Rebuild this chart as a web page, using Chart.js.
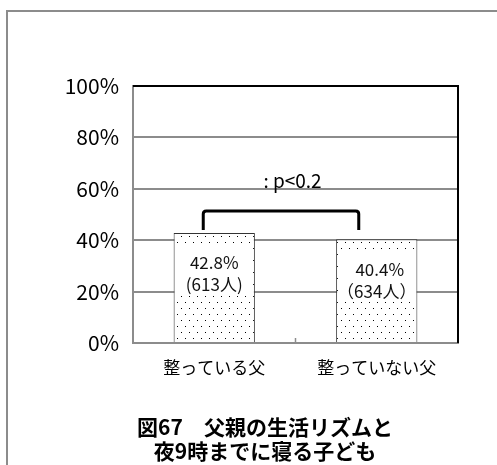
<!DOCTYPE html>
<html>
<head>
<meta charset="utf-8">
<script src="https://cdn.jsdelivr.net/npm/chart.js@4"></script>
<style>
  html, body { margin: 0; padding: 0; background: #fff; }
  #wrap { width: 497px; height: 465px; }
</style>
</head>
<body>
<div id="wrap"><canvas id="chart" width="497" height="465"></canvas></div>
<script>
// data
const categories = ['整っている父', '整っていない父'];
const percentValues = [42.8, 40.4];
const valueLabels = ['42.8%', '40.4%'];
const countLabels = ['(613人)', '（634人）'];
const yTicks = [0, 20, 40, 60, 80, 100];
const sigLabel = ': p<0.2';
const titleLines = ['図67　父親の生活リズムと', '夜9時までに寝る子ども'];

const JP = '"Noto Sans CJK JP", "Noto Sans", sans-serif';

// dotted fill like the original
function makeDots() {
    const c = document.createElement('canvas');
    c.width = 8; c.height = 12;
    const g = c.getContext('2d');
    g.fillStyle = '#fff';
    g.fillRect(0, 0, 8, 12);
    g.fillStyle = '#000';
    g.fillRect(1, 2, 1, 1);
    g.fillRect(5, 8, 1, 1);
    return document.getElementById('chart').getContext('2d').createPattern(c, 'repeat');
}

// frame, top/right border, bracket, labels, title
const decorPlugin = {
    id: 'decor',
    afterDatasetsDraw(chart) {
        const ctx = chart.ctx;
        const area = chart.chartArea;
        const meta = chart.getDatasetMeta(0);
        const y = chart.scales.y;
        ctx.save();

        // outer page frame
        ctx.strokeStyle = '#8c8c8c';
        ctx.lineWidth = 2;
        ctx.beginPath();
        ctx.moveTo(7, 465);
        ctx.lineTo(7, 11);
        ctx.lineTo(497, 11);
        ctx.stroke();

        // top and right border of plot
        ctx.strokeStyle = '#000';
        ctx.lineWidth = 2;
        ctx.beginPath();
        ctx.moveTo(area.left, area.top);
        ctx.lineTo(area.right, area.top);
        ctx.lineTo(area.right, area.bottom);
        ctx.stroke();

        // small category divider tick
        const midX = (area.left + area.right) / 2;
        ctx.strokeStyle = '#8c8c8c';
        ctx.lineWidth = 1.5;
        ctx.beginPath();
        ctx.moveTo(midX, area.bottom);
        ctx.lineTo(midX, area.bottom - 5);
        ctx.stroke();

        // labels inside bars
        meta.data.forEach((bar, i) => {
            const w = bar.width - 4;
            const top = bar.y + 11;
            ctx.fillStyle = '#fff';
            ctx.fillRect(bar.x - w / 2, top, w, 51);
            ctx.fillStyle = '#111';
            ctx.font = '17px ' + JP;
            ctx.textAlign = 'center';
            ctx.textBaseline = 'middle';
            ctx.fillText(valueLabels[i], bar.x + (i === 1 ? 3 : 0), bar.y + 30);
            ctx.fillText(countLabels[i], bar.x, bar.y + 52);
        });

        // significance bracket
        const b0 = meta.data[0], b1 = meta.data[1];
        const yTop = 211;
        const yLeg = 230;
        const xl = b0.x - 11, xr = b1.x - 18;
        ctx.strokeStyle = '#000';
        ctx.lineWidth = 3;
        ctx.lineJoin = 'round';
        ctx.beginPath();
        ctx.moveTo(xl, yLeg);
        ctx.lineTo(xl, yTop + 3);
        ctx.quadraticCurveTo(xl, yTop, xl + 3, yTop);
        ctx.lineTo(xr - 3, yTop);
        ctx.quadraticCurveTo(xr, yTop, xr, yTop + 3);
        ctx.lineTo(xr, yLeg);
        ctx.stroke();

        ctx.fillStyle = '#000';
        ctx.font = '19px ' + JP;
        ctx.textAlign = 'center';
        ctx.textBaseline = 'alphabetic';
        ctx.fillText(sigLabel, (b0.x + b1.x) / 2 - 3, y.getPixelForValue(60) - 1);

        // figure title
        ctx.font = 'bold 21px ' + JP;
        ctx.textBaseline = 'middle';
        ctx.fillText(titleLines[0], 265, 427);
        ctx.fillText(titleLines[1], 265, 451);
        ctx.restore();
    }
};

new Chart(document.getElementById('chart'), {
    type: 'bar',
    data: {
        labels: categories,
        datasets: [{
            data: percentValues,
            backgroundColor: makeDots(),
            borderColor: '#333',
            borderWidth: 1,
            barPercentage: 0.5,
            categoryPercentage: 1.0
        }]
    },
    options: {
        responsive: false,
        animation: false,
        layout: { padding: { left: 0, top: 86, right: 39, bottom: 82 } },
        plugins: {
            legend: { display: false },
            tooltip: { enabled: false }
        },
        scales: {
            y: {
                min: 0,
                max: 100,
                afterFit: (s) => { s.width = 133; },
                afterBuildTicks: (s) => { s.ticks = yTicks.map(v => ({ value: v })); },
                ticks: {
                    padding: 14,
                    color: '#000',
                    font: { family: JP, size: 21 },
                    callback: (v) => v + '%'
                },
                grid: { color: '#8c8c8c', lineWidth: 2, drawTicks: false },
                border: { color: '#8c8c8c', width: 2 }
            },
            x: {
                afterFit: (s) => { s.height = 40; },
                ticks: {
                    padding: 6,
                    color: '#000',
                    font: { family: JP, size: 17 }
                },
                grid: { display: false },
                border: { color: '#8c8c8c', width: 2 }
            }
        }
    },
    plugins: [decorPlugin]
});
</script>
</body>
</html>
